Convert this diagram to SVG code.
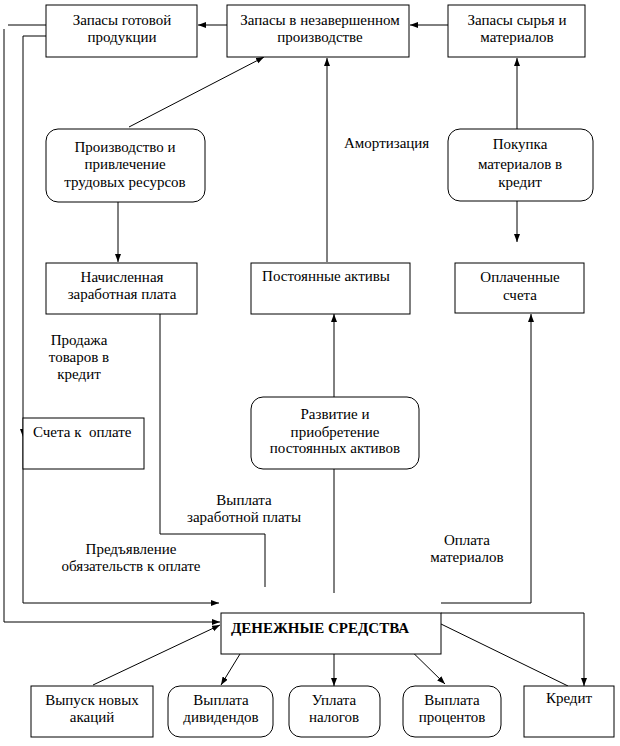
<svg xmlns="http://www.w3.org/2000/svg" width="620" height="746" viewBox="0 0 620 746">
<style>
.b{fill:#fff;stroke:#000;stroke-width:1}
.t{font-family:"Liberation Serif","Times New Roman",serif;font-size:15px;fill:#000;text-anchor:middle}
.l{font-family:"Liberation Serif","Times New Roman",serif;font-size:15px;fill:#000}
.c{fill:none;stroke:#000;stroke-width:1}
</style>
<defs>
<marker id="a" markerUnits="userSpaceOnUse" markerWidth="9" markerHeight="8" refX="8" refY="3" orient="auto">
<path d="M0,0 L8,3 L0,6 z" fill="#000"/>
</marker>
</defs>
<rect width="620" height="746" fill="#fff"/>
<g id="connectors">
<line class="c" x1="227" y1="25" x2="198" y2="25" marker-end="url(#a)"/>
<line class="c" x1="448" y1="25" x2="410" y2="25" marker-end="url(#a)"/>
<line class="c" x1="8" y1="25" x2="46" y2="25"/>
<polyline class="c" points="4,29 4,622 220,622" marker-end="url(#a)"/>
<polyline class="c" points="46,36 23,36 23,437" marker-end="url(#a)"/>
<polyline class="c" points="23,437 23,603 219,603" marker-end="url(#a)"/>
<line class="c" x1="129" y1="127" x2="264" y2="57" marker-end="url(#a)"/>
<line class="c" x1="118" y1="202" x2="118" y2="262" marker-end="url(#a)"/>
<polyline class="c" points="160,297 160,534 265,534 265,587"/>
<line class="c" x1="327" y1="262" x2="327" y2="58" marker-end="url(#a)"/>
<line class="c" x1="517" y1="129" x2="517" y2="58" marker-end="url(#a)"/>
<line class="c" x1="517" y1="193" x2="517" y2="242" marker-end="url(#a)"/>
<line class="c" x1="334" y1="397" x2="334" y2="314" marker-end="url(#a)"/>
<line class="c" x1="334" y1="469" x2="334" y2="593"/>
<polyline class="c" points="441,603 531,603 531,314" marker-end="url(#a)"/>
<polyline class="c" points="441,613 584,613 584,686" marker-end="url(#a)"/>
<line class="c" x1="568" y1="686" x2="441" y2="624"/>
<line class="c" x1="93" y1="685" x2="220" y2="625" marker-end="url(#a)"/>
<line class="c" x1="251" y1="636" x2="221" y2="685" marker-end="url(#a)"/>
<line class="c" x1="334" y1="635" x2="334" y2="686" marker-end="url(#a)"/>
<line class="c" x1="396" y1="636" x2="445" y2="684" marker-end="url(#a)"/>
</g>
<g id="zapasy-gotovoy">
<rect class="b" x="46" y="5" width="151" height="52"/>
<text class="t" x="122" y="25">Запасы готовой</text>
<text class="t" x="122" y="42">продукции</text>
</g>
<g id="zapasy-nezavershennoe">
<rect class="b" x="227" y="5" width="182" height="52"/>
<text class="t" x="320" y="25">Запасы в незавершенном</text>
<text class="t" x="320" y="42">производстве</text>
</g>
<g id="zapasy-syrya">
<rect class="b" x="448" y="5" width="137" height="52"/>
<text class="t" x="517" y="25">Запасы сырья и</text>
<text class="t" x="517" y="42">материалов</text>
</g>
<g id="proizvodstvo">
<rect class="b" x="46" y="129" width="159" height="73" rx="12"/>
<text class="t" x="125" y="152">Производство и</text>
<text class="t" x="125" y="169">привлечение</text>
<text class="t" x="125" y="187">трудовых ресурсов</text>
</g>
<g id="amortizatsiya">
<text class="l" x="344" y="148">Амортизация</text>
</g>
<g id="pokupka">
<rect class="b" x="448" y="129" width="145" height="72" rx="12"/>
<text class="t" x="520" y="149">Покупка</text>
<text class="t" x="520" y="169">материалов в</text>
<text class="t" x="520" y="187">кредит</text>
</g>
<g id="nachislennaya">
<rect class="b" x="46" y="263" width="151" height="51"/>
<text class="t" x="122" y="282">Начисленная</text>
<text class="t" x="122" y="299">заработная плата</text>
</g>
<g id="postoyannye">
<rect class="b" x="251" y="263" width="159" height="51"/>
<text class="t" x="326" y="281">Постоянные активы</text>
</g>
<g id="oplachennye">
<rect class="b" x="455" y="263" width="129" height="50"/>
<text class="t" x="520" y="282">Оплаченные</text>
<text class="t" x="520" y="300">счета</text>
</g>
<g id="prodazha">
<text class="t" x="79" y="345">Продажа</text>
<text class="t" x="79" y="362">товаров в</text>
<text class="t" x="79" y="379">кредит</text>
</g>
<g id="scheta">
<rect class="b" x="23" y="418" width="121" height="51"/>
<text class="l" x="33" y="437" xml:space="preserve">Счета к  оплате</text>
</g>
<g id="razvitie">
<rect class="b" x="251" y="397" width="168" height="72" rx="12"/>
<text class="t" x="335" y="419">Развитие и</text>
<text class="t" x="335" y="437">приобретение</text>
<text class="t" x="335" y="453">постоянных активов</text>
</g>
<g id="vyplata-zp">
<text class="t" x="244" y="505">Выплата</text>
<text class="t" x="244" y="522">заработной платы</text>
</g>
<g id="predyavlenie">
<text class="t" x="131" y="554">Предъявление</text>
<text class="t" x="131" y="571">обязательств к оплате</text>
</g>
<g id="oplata-mat">
<text class="t" x="467" y="545">Оплата</text>
<text class="t" x="467" y="562">материалов</text>
</g>
<g id="denezhnye">
<rect class="b" x="221" y="613" width="220" height="41"/>
<text class="l" x="231" y="633" font-weight="bold">ДЕНЕЖНЫЕ СРЕДСТВА</text>
</g>
<g id="vypusk">
<rect class="b" x="31" y="686" width="122" height="51"/>
<text class="t" x="92" y="705">Выпуск новых</text>
<text class="t" x="92" y="722">акаций</text>
</g>
<g id="dividendy">
<rect class="b" x="168" y="686" width="105" height="51" rx="12"/>
<text class="t" x="221" y="705">Выплата</text>
<text class="t" x="221" y="722">дивидендов</text>
</g>
<g id="nalogi">
<rect class="b" x="289" y="686" width="91" height="51" rx="12"/>
<text class="t" x="334" y="705">Уплата</text>
<text class="t" x="334" y="722">налогов</text>
</g>
<g id="protsenty">
<rect class="b" x="403" y="686" width="98" height="51" rx="12"/>
<text class="t" x="452" y="705">Выплата</text>
<text class="t" x="452" y="722">процентов</text>
</g>
<g id="kredit">
<rect class="b" x="524" y="686" width="90" height="51"/>
<text class="t" x="569" y="703">Кредит</text>
</g>
</svg>
